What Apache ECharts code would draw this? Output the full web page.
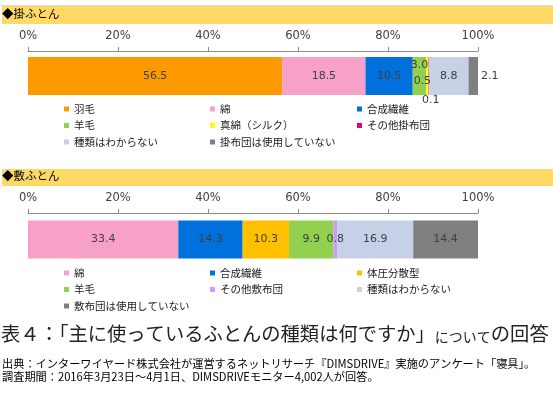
<!DOCTYPE html>
<html>
<head>
<meta charset="utf-8">
<script src="https://cdn.jsdelivr.net/npm/echarts@6/dist/echarts.min.js"></script>
<style>
html,body{margin:0;padding:0;background:#fff;}
#main{width:553px;height:398px;}
</style>
</head>
<body>
<div id="main"></div>
<script>
// 掛ふとん
var kakeNames = ['羽毛', '綿', '合成繊維', '羊毛', '真綿（シルク）', 'その他掛布団', '種類はわからない', '掛布団は使用していない'];
var kakeValues = [56.5, 18.5, 10.5, 3.0, 0.5, 0.1, 8.8, 2.1];
// 敷ふとん
var shikiNames = ['綿', '合成繊維', '体圧分散型', '羊毛', 'その他敷布団', '種類はわからない', '敷布団は使用していない'];
var shikiValues = [33.4, 14.3, 10.3, 9.9, 0.8, 16.9, 14.4];
var tickValues = [0, 20, 40, 60, 80, 100];

var colors = {
  '羽毛': '#FF9900',
  '綿': '#F7A1C9',
  '合成繊維': '#0070DD',
  '羊毛': '#92D050',
  '真綿（シルク）': '#FFFF00',
  'その他掛布団': '#E4007F',
  '種類はわからない': '#C6D0E6',
  '掛布団は使用していない': '#7F7F7F',
  '敷布団は使用していない': '#7F7F7F',
  '体圧分散型': '#FFC000',
  'その他敷布団': '#CC99FF'
};

// 小さい値のラベル位置
var kakeLabelPos = {
  3: {position: 'inside', offset: [0, -11]},
  4: {position: 'inside', offset: [-5, 5]},
  5: {position: 'bottom', distance: 0, offset: [2, 0]},
  7: {position: 'right', distance: 3}
};

var labelFont = {fontFamily: 'DejaVu Sans', fontSize: 11, color: '#404040'};

function makeSeries(names, values, idx, stack, posMap) {
  return names.map(function (n, i) {
    var lab = Object.assign({show: true, position: 'inside', formatter: function (p) { return p.value.toFixed(1); }}, labelFont, (posMap && posMap[i]) || {});
    return {
      name: n,
      type: 'bar',
      stack: stack,
      xAxisIndex: idx,
      yAxisIndex: idx,
      barWidth: 38,
      itemStyle: {color: colors[n]},
      label: lab,
      data: [values[i]]
    };
  });
}

function valueAxis(gi) {
  return {
    type: 'value', gridIndex: gi, position: 'top',
    min: tickValues[0], max: tickValues[tickValues.length - 1], interval: 20,
    axisLine: {show: true, lineStyle: {color: '#8C8C8C', width: 1}},
    axisTick: {show: true, length: 4, lineStyle: {color: '#8C8C8C'}},
    splitLine: {show: false},
    axisLabel: {formatter: '{value}%', margin: 9, fontFamily: 'DejaVu Sans', fontSize: 11.5, color: '#404040'}
  };
}

var legendText = {fontFamily: 'Noto Sans CJK JP', fontSize: 10.5, color: '#1a1a1a', lineHeight: 12};
function legendCol(x, y, data) {
  return {
    left: x, top: y, orient: 'vertical', data: data,
    icon: 'rect', itemWidth: 5, itemHeight: 5, itemGap: 4.5,
    padding: 0, textStyle: legendText, selectedMode: false
  };
}

var bandStyle = {fill: '#FFD966'};
var headFont = {fontFamily: 'Noto Sans CJK JP', fontSize: 11.5, fill: '#000'};
var srcFont = {fontFamily: 'Noto Sans CJK JP', fontSize: 11.2, fill: '#000'};

var chart = echarts.init(document.getElementById('main'));
chart.setOption({
  animation: false,
  grid: [
    {left: 28, right: 75, top: 51, height: 50},
    {left: 28, right: 75, top: 213, height: 53}
  ],
  xAxis: [valueAxis(0), valueAxis(1)],
  yAxis: [
    {type: 'category', gridIndex: 0, data: ['掛ふとん'], show: false},
    {type: 'category', gridIndex: 1, data: ['敷ふとん'], show: false}
  ],
  legend: [
    legendCol(64, 103, ['羽毛', '羊毛', '種類はわからない']),
    legendCol(210, 103, ['綿', '真綿（シルク）', '掛布団は使用していない']),
    legendCol(357, 103, ['合成繊維', 'その他掛布団']),
    legendCol(64, 267, ['綿', '羊毛', '敷布団は使用していない']),
    legendCol(210, 267, ['合成繊維', 'その他敷布団']),
    legendCol(357, 267, ['体圧分散型', '種類はわからない'])
  ],
  graphic: [
    {type: 'line', shape: {x1: 0, y1: 5.5, x2: 553, y2: 5.5}, style: {stroke: '#D9D9D9', lineWidth: 1}, silent: true},
    {type: 'rect', shape: {x: 2, y: 6, width: 551, height: 18}, style: bandStyle, silent: true},
    {type: 'text', left: 2, top: 8, style: Object.assign({text: '◆掛ふとん'}, headFont)},
    {type: 'rect', shape: {x: 2, y: 169, width: 551, height: 17}, style: bandStyle, silent: true},
    {type: 'text', left: 2, top: 170, style: Object.assign({text: '◆敷ふとん'}, headFont)},
    {type: 'text', left: 1, top: 324, style: {
      text: '{a|表４：「主に使っているふとんの種類は何ですか」}{b|について}{c|の回答}',
      rich: {
        a: {fontFamily: 'Noto Sans CJK JP', fontSize: 19.3, fill: '#222', verticalAlign: 'bottom'},
        b: {fontFamily: 'Noto Sans CJK JP', fontSize: 14, fill: '#222', verticalAlign: 'bottom'},
        c: {fontFamily: 'Noto Sans CJK JP', fontSize: 19.3, fill: '#222', verticalAlign: 'bottom'}
      }
    }},
    {type: 'text', left: 2, top: 358, style: Object.assign({text: '出典：インターワイヤード株式会社が運営するネットリサーチ『DIMSDRIVE』実施のアンケート「寝具」。'}, srcFont)},
    {type: 'text', left: 2, top: 371, style: Object.assign({text: '調査期間：2016年3月23日～4月1日、DIMSDRIVEモニター4,002人が回答。'}, srcFont)}
  ],
  series: makeSeries(kakeNames, kakeValues, 0, 'kake', kakeLabelPos)
    .concat(makeSeries(shikiNames, shikiValues, 1, 'shiki', null))
});
</script>
</body>
</html>
